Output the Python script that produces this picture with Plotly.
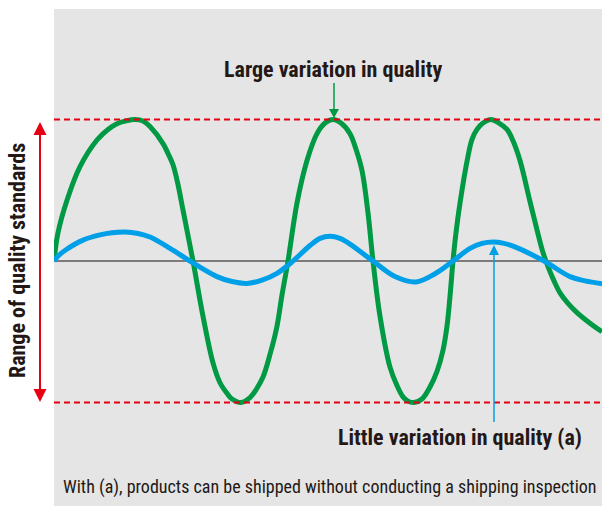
import plotly.graph_objects as go

# ---- data (x: position along the horizontal, y: deviation, limits at +/-1) ----
green_x = [0, 4, 13, 26, 43, 54, 63, 72, 81, 89, 96, 109, 114, 119, 124, 129, 134, 139,
           149, 159, 166, 173, 178, 187, 196, 202, 209, 216, 223, 228, 234,
           243, 253, 263, 271, 279, 287, 296, 302, 308, 314, 319,
           326, 336, 343, 349, 354, 360, 368, 376, 383, 389, 393, 396, 399,
           402, 406, 414, 418, 423, 429, 437, 445, 453, 459, 466, 476, 483, 489, 494, 500,
           506, 514, 523, 536, 548]
green_y = [0, 0.2, 0.43, 0.667, 0.855, 0.93, 0.97, 0.99, 1.0, 0.99, 0.95, 0.83, 0.76, 0.68, 0.54, 0.36, 0.18, 0,
           -0.39, -0.72, -0.86, -0.935, -0.975, -1.0, -0.965, -0.91, -0.82, -0.66, -0.46, -0.24, 0,
           0.41, 0.71, 0.90, 0.975, 1.0, 0.975, 0.90, 0.79, 0.64, 0.34, 0,
           -0.39, -0.75, -0.88, -0.96, -0.99, -1.0, -0.975, -0.89, -0.78, -0.63, -0.46, -0.25, 0,
           0.2, 0.41, 0.74, 0.86, 0.93, 0.975, 1.0, 0.975, 0.93, 0.85, 0.71, 0.42, 0.22, 0.06, -0.04, -0.14,
           -0.225, -0.30, -0.365, -0.44, -0.50]
blue_x = [0, 4, 12, 29, 46, 58, 71, 84, 96, 116, 136, 163, 178, 193, 208, 223, 239,
          256, 266, 276, 286, 296, 319, 341, 362, 381, 399, 416, 428, 439, 450, 461,
          490, 516, 531, 548]
blue_y = [0, 0.035, 0.08, 0.148, 0.185, 0.2, 0.205, 0.195, 0.17, 0.09, 0, -0.11, -0.145, -0.158,
          -0.135, -0.087, 0, 0.11, 0.16, 0.175, 0.16, 0.12, 0, -0.11, -0.148, -0.09, 0,
          0.09, 0.125, 0.135, 0.125, 0.10, 0, -0.11, -0.14, -0.16]
limits = [1.0, -1.0]
x_span = [0, 548]

title_large = "Large variation in quality"
title_small = "Little variation in quality (a)"
y_label = "Range of quality standards"
footnote = "With (a), products can be shipped without conducting a shipping inspection"

GREEN = "#009944"
BLUE = "#00a0e9"
RED = "#e60012"
GRAY_BG = "#e5e5e5"
TEXT = "#231815"

W, H = 602, 506
L, T = 54, 9
PW, PH = W - L, H - T
Y_TOP, Y_BOT = 1.781, -1.731

def px(xpix):
    return (xpix - L) / PW

def py(ypix):
    return (H - ypix) / PH

fig = go.Figure()
fig.add_trace(go.Scatter(x=green_x, y=green_y, mode="lines",
                         line=dict(color=GREEN, width=5, shape="spline", smoothing=1.0),
                         hoverinfo="skip"))
fig.add_trace(go.Scatter(x=blue_x, y=blue_y, mode="lines",
                         line=dict(color=BLUE, width=5, shape="spline", smoothing=1.0),
                         hoverinfo="skip"))

shapes = []
shapes.append(dict(type="line", xref="x", yref="y", x0=x_span[0], x1=x_span[1], y0=0, y1=0,
                   line=dict(color="#595959", width=1.5), layer="below"))
for lv in limits:
    shapes.append(dict(type="line", xref="x", yref="y", x0=x_span[0], x1=x_span[1], y0=lv, y1=lv,
                       line=dict(color=RED, width=2, dash="6px,4px"), layer="above"))

def tri(xc, ytip, ybase, half, color):
    return dict(type="path", xref="paper", yref="paper",
                path=f"M{px(xc - half)},{py(ybase)} L{px(xc + half)},{py(ybase)} L{px(xc)},{py(ytip)} Z",
                fillcolor=color, line=dict(width=0), layer="above")

# red double arrow
shapes.append(dict(type="line", xref="paper", yref="paper", x0=px(40), x1=px(40),
                   y0=py(132), y1=py(392), line=dict(color=RED, width=2)))
shapes.append(tri(40, 122, 135, 6.5, RED))
shapes.append(tri(40, 402, 389, 6.5, RED))

# green arrow
shapes.append(dict(type="line", xref="paper", yref="paper", x0=px(334), x1=px(334),
                   y0=py(83), y1=py(111), line=dict(color=GREEN, width=1.5)))
shapes.append(tri(334, 118, 109, 5, GREEN))

# blue arrow
shapes.append(dict(type="line", xref="paper", yref="paper", x0=px(494), x1=px(494),
                   y0=py(253), y1=py(422), line=dict(color=BLUE, width=1.5)))
shapes.append(tri(494, 245, 255, 5, BLUE))

FONT = "Liberation Sans Narrow, Roboto Condensed, Arial Narrow, Roboto, sans-serif"
annotations = [
    dict(text=f"<b>{title_large}</b>", xref="paper", yref="paper", x=px(333), y=py(69),
         showarrow=False, font=dict(size=22, color=TEXT, family=FONT), xanchor="center", yanchor="middle"),
    dict(text=f"<b>{title_small}</b>", xref="paper", yref="paper", x=px(460), y=py(437),
         showarrow=False, font=dict(size=22, color=TEXT, family=FONT), xanchor="center", yanchor="middle"),
    dict(text=footnote, xref="paper", yref="paper", x=px(330), y=py(487),
         showarrow=False, font=dict(size=18, color=TEXT, family=FONT), xanchor="center", yanchor="middle"),
    dict(text=f"<b>{y_label}</b>", xref="paper", yref="paper", x=px(17), y=py(261),
         showarrow=False, textangle=-90, font=dict(size=22, color=TEXT, family=FONT),
         xanchor="center", yanchor="middle"),
]

fig.update_layout(
    width=W, height=H,
    margin=dict(l=L, r=0, t=T, b=0, pad=0),
    paper_bgcolor="white", plot_bgcolor=GRAY_BG,
    showlegend=False,
    shapes=shapes, annotations=annotations,
    xaxis=dict(range=x_span, visible=False, showgrid=False, zeroline=False, fixedrange=True),
    yaxis=dict(range=[Y_BOT, Y_TOP], visible=False, showgrid=False, zeroline=False, fixedrange=True),
)
fig.write_html("out.html", config={"displayModeBar": False})

with open("out.html", "r", encoding="utf-8") as f:
    html = f.read()
html = html.replace("<body>", '<body style="margin:0;padding:0;overflow:hidden">', 1)
with open("out.html", "w", encoding="utf-8") as f:
    f.write(html)
